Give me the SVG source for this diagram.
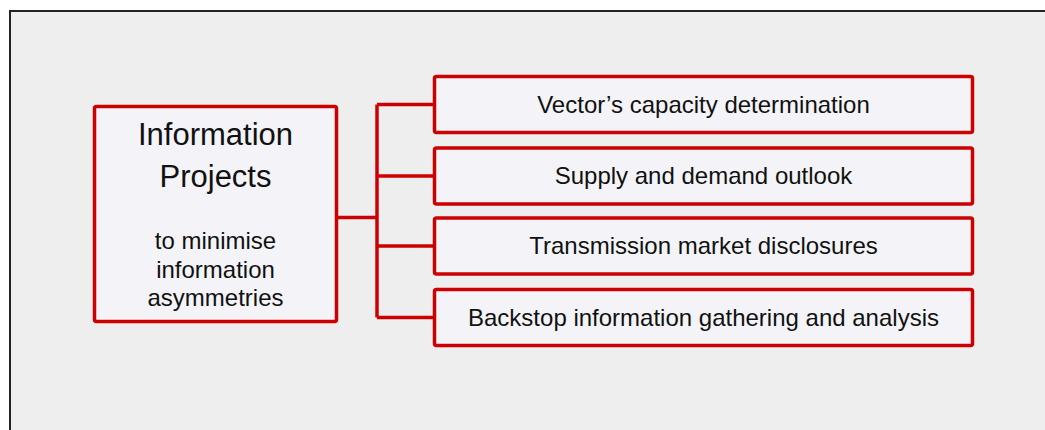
<svg xmlns="http://www.w3.org/2000/svg" width="1045" height="430" viewBox="0 0 1045 430">
<style>
.box{fill:#f4f4f8;stroke:#cc0000;stroke-width:3.5}
.con{fill:none;stroke:#cc0000;stroke-width:3.5}
text{font-family:"Liberation Sans",Arial,sans-serif;fill:#111;text-anchor:middle}
.big{font-size:31px}
.mid{font-size:24px}
</style>
<rect x="0" y="0" width="1045" height="430" fill="#ffffff"/>
<rect x="10" y="11" width="1040" height="425" fill="#eeeeee"/>
<path d="M10 432 V11 H1047" fill="none" stroke="#222" stroke-width="2"/>
<g id="connectors">
<path class="con" d="M337 217.5 H377"/>
<path class="con" d="M377 104.5 V317.5"/>
<path class="con" d="M377 104.5 H434 M377 176 H434 M377 246 H434 M377 317.5 H434"/>
</g>
<g id="main">
<rect class="box" x="94.5" y="106.5" width="242" height="215" rx="2"/>
<text class="big" x="215.5" y="145">Information</text>
<text class="big" x="215.5" y="187">Projects</text>
<text class="mid" x="215.5" y="249">to minimise</text>
<text class="mid" x="215.5" y="278">information</text>
<text class="mid" x="215.5" y="306">asymmetries</text>
</g>
<g id="n1">
<rect class="box" x="434.5" y="76.5" width="538" height="56" rx="2"/>
<text class="mid" x="703.5" y="112.7">Vector’s capacity determination</text>
</g>
<g id="n2">
<rect class="box" x="434.5" y="148" width="538" height="56" rx="2"/>
<text class="mid" x="703.5" y="184.2">Supply and demand outlook</text>
</g>
<g id="n3">
<rect class="box" x="434.5" y="218" width="538" height="56" rx="2"/>
<text class="mid" x="703.5" y="254.2">Transmission market disclosures</text>
</g>
<g id="n4">
<rect class="box" x="434.5" y="289.5" width="538" height="56" rx="2"/>
<text class="mid" x="703.5" y="325.7">Backstop information gathering and analysis</text>
</g>
</svg>
